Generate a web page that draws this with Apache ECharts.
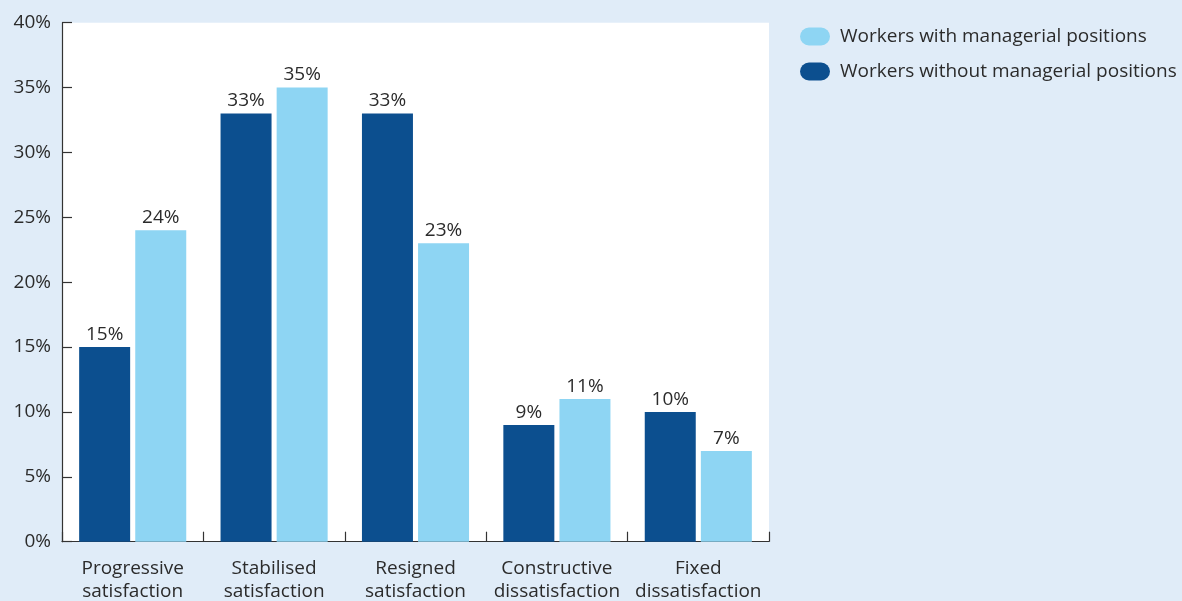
<!DOCTYPE html>
<html>
<head>
<meta charset="utf-8">
<script src="https://cdn.jsdelivr.net/npm/echarts@6/dist/echarts.min.js"></script>
<style>
html,body{margin:0;padding:0;background:#e0ecf8;}
#chart{width:1182px;height:601px;}
</style>
</head>
<body>
<div id="chart"></div>
<script>
const categories = ['Progressive\nsatisfaction', 'Stabilised\nsatisfaction', 'Resigned\nsatisfaction', 'Constructive\ndissatisfaction', 'Fixed\ndissatisfaction'];
const seriesWithout = [15, 33, 33, 9, 10];
const seriesWith = [24, 35, 23, 11, 7];
const nameWith = 'Workers with managerial positions';
const nameWithout = 'Workers without managerial positions';
const yTicks = [0, 5, 10, 15, 20, 25, 30, 35, 40];

const textColor = '#2b2b2b';
const font = '"Open Sans", sans-serif';
const pill = 'path://M9,0 H21 A9,9 0 0 1 21,18 H9 A9,9 0 0 1 9,0 Z';

const chart = echarts.init(document.getElementById('chart'));
chart.setOption({
  backgroundColor: '#e0ecf8',
  animation: false,
  textStyle: { fontFamily: font, color: textColor },
  legend: {
    data: [nameWith, nameWithout],
    orient: 'vertical',
    left: 795,
    top: 22,
    itemWidth: 30,
    itemHeight: 18,
    itemGap: 16,
    icon: pill,
    textStyle: { fontSize: 19, color: textColor, fontFamily: font, padding: [0, 0, 0, 5] }
  },
  grid: {
    left: 62, top: 22.7, right: 413, bottom: 59.3,
    outerBoundsMode: 'none',
    containLabel: false,
    show: true, backgroundColor: '#ffffff', borderWidth: 0
  },
  xAxis: {
    type: 'category',
    data: categories,
    axisLine: { show: true, lineStyle: { color: '#333', width: 1.2 } },
    axisTick: { show: true, inside: true, length: 10, alignWithLabel: false, lineStyle: { color: '#333', width: 1.2 } },
    axisLabel: { fontSize: 19, color: textColor, fontFamily: font, margin: 15, lineHeight: 23, interval: 0 }
  },
  yAxis: {
    type: 'value',
    min: yTicks[0],
    max: yTicks[yTicks.length - 1],
    interval: 5,
    axisLine: { show: true, lineStyle: { color: '#333', width: 1.2 } },
    axisTick: { show: true, inside: true, length: 10, lineStyle: { color: '#333', width: 1.2 } },
    splitLine: { show: false },
    axisLabel: { fontSize: 19, color: textColor, fontFamily: font, margin: 11, formatter: '{value}%' }
  },
  series: [
    {
      name: nameWithout,
      type: 'bar',
      data: seriesWithout,
      barWidth: 51,
      barGap: '10%',
      itemStyle: { color: '#0c4f8f', borderWidth: 0 },
      label: { show: true, position: 'top', distance: 3, formatter: '{c}%', fontSize: 19, color: textColor, fontFamily: font }
    },
    {
      name: nameWith,
      type: 'bar',
      data: seriesWith,
      barWidth: 51,
      barGap: '10%',
      itemStyle: { color: '#8ed5f3', borderWidth: 0 },
      label: { show: true, position: 'top', distance: 3, formatter: '{c}%', fontSize: 19, color: textColor, fontFamily: font }
    }
  ]
});
</script>
</body>
</html>
